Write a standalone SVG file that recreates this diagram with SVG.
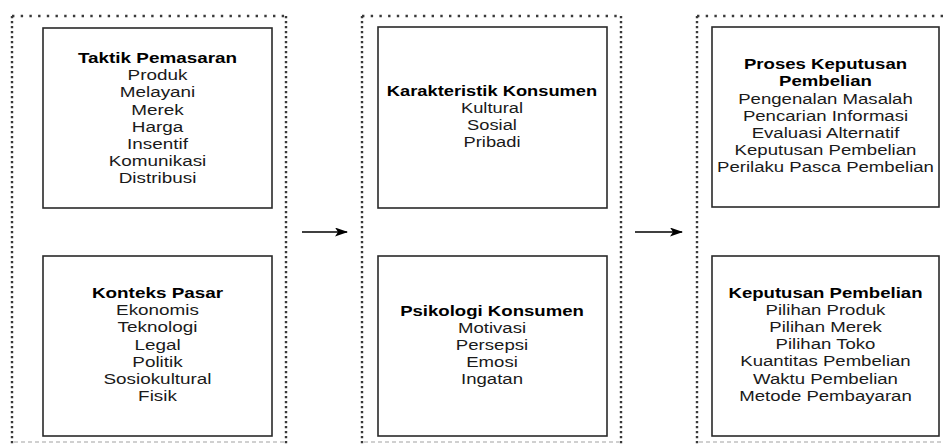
<svg xmlns="http://www.w3.org/2000/svg" width="944" height="446" viewBox="0 0 944 446">
  <defs>
    <style>
      .frameH { stroke: #3a3a3a; stroke-width: 2.4; stroke-dasharray: 2.4 6.3; fill: none; }
      .frameV { stroke: #3a3a3a; stroke-width: 2.4; stroke-dasharray: 2.2 2.8; fill: none; }
      .frameB { stroke: #d0d0d0; stroke-width: 2; stroke-dasharray: 4 3; fill: none; }
      .box { fill: #fff; stroke: #2a2a2a; stroke-width: 1.6; }
      .lbl { font-family: "Liberation Sans", Arial, sans-serif; font-size: 15px; fill: #1a1a1a; text-anchor: middle; }
      .ttl { font-weight: bold; fill: #000; }
      .conn { stroke: #000; stroke-width: 1.4; fill: none; marker-end: url(#arr); }
    </style>
    <marker id="arr" markerWidth="14" markerHeight="10" refX="12" refY="4.5" orient="auto" markerUnits="userSpaceOnUse">
      <path d="M0,0 L13,4.5 L0,9 L3,4.5 z" fill="#000"/>
    </marker>
  </defs>
  <rect width="944" height="446" fill="#fff"/>

  <g id="frames">
    <g id="frame1">
      <line class="frameH" x1="12" y1="16" x2="288" y2="16"/>
      <line class="frameV" x1="12" y1="16" x2="12" y2="446"/>
      <line class="frameV" x1="286" y1="16" x2="286" y2="446"/>
      <line class="frameB" x1="14" y1="442" x2="284" y2="442"/>
    </g>
    <g id="frame2">
      <line class="frameH" x1="362" y1="16" x2="623" y2="16"/>
      <line class="frameV" x1="362" y1="16" x2="362" y2="446"/>
      <line class="frameV" x1="621" y1="16" x2="621" y2="446"/>
      <line class="frameB" x1="364" y1="442" x2="619" y2="442"/>
    </g>
    <g id="frame3">
      <line class="frameH" x1="697" y1="16" x2="944" y2="16"/>
      <line class="frameV" x1="697" y1="16" x2="697" y2="446"/>
      <line class="frameB" x1="699" y1="442" x2="944" y2="442"/>
    </g>
  </g>

  <g id="taktik-pemasaran">
    <rect class="box" x="43" y="28" width="229" height="180"/>
    <g transform="translate(157.5 0) scale(1.26 1)">
      <text class="lbl" y="63"><tspan class="ttl" x="0">Taktik Pemasaran</tspan><tspan x="0" dy="17.2">Produk</tspan><tspan x="0" dy="17.2">Melayani</tspan><tspan x="0" dy="17.2">Merek</tspan><tspan x="0" dy="17.2">Harga</tspan><tspan x="0" dy="17.2">Insentif</tspan><tspan x="0" dy="17.2">Komunikasi</tspan><tspan x="0" dy="17.2">Distribusi</tspan></text>
    </g>
  </g>

  <g id="konteks-pasar">
    <rect class="box" x="43" y="256" width="229" height="180"/>
    <g transform="translate(157.5 0) scale(1.26 1)">
      <text class="lbl" y="298"><tspan class="ttl" x="0">Konteks Pasar</tspan><tspan x="0" dy="17.2">Ekonomis</tspan><tspan x="0" dy="17.2">Teknologi</tspan><tspan x="0" dy="17.2">Legal</tspan><tspan x="0" dy="17.2">Politik</tspan><tspan x="0" dy="17.2">Sosiokultural</tspan><tspan x="0" dy="17.2">Fisik</tspan></text>
    </g>
  </g>

  <g id="karakteristik-konsumen">
    <rect class="box" x="378" y="27" width="229" height="181"/>
    <g transform="translate(492 0) scale(1.22 1)">
      <text class="lbl" y="95.7"><tspan class="ttl" x="0">Karakteristik Konsumen</tspan><tspan x="0" dy="17.2">Kultural</tspan><tspan x="0" dy="17.2">Sosial</tspan><tspan x="0" dy="17.2">Pribadi</tspan></text>
    </g>
  </g>

  <g id="psikologi-konsumen">
    <rect class="box" x="378" y="256" width="229" height="180"/>
    <g transform="translate(492 0) scale(1.24 1)">
      <text class="lbl" y="315.7"><tspan class="ttl" x="0">Psikologi Konsumen</tspan><tspan x="0" dy="17.2">Motivasi</tspan><tspan x="0" dy="17.2">Persepsi</tspan><tspan x="0" dy="17.2">Emosi</tspan><tspan x="0" dy="17.2">Ingatan</tspan></text>
    </g>
  </g>

  <g id="proses-keputusan-pembelian">
    <rect class="box" x="712" y="27" width="227" height="180"/>
    <g transform="translate(825.5 0) scale(1.24 1)">
      <text class="lbl" y="69.3"><tspan class="ttl" x="0">Proses Keputusan</tspan><tspan class="ttl" x="0" dy="17.2">Pembelian</tspan><tspan x="0" dy="17.2">Pengenalan Masalah</tspan><tspan x="0" dy="17.2">Pencarian Informasi</tspan><tspan x="0" dy="17.2">Evaluasi Alternatif</tspan><tspan x="0" dy="17.2">Keputusan Pembelian</tspan><tspan x="0" dy="17.2">Perilaku Pasca Pembelian</tspan></text>
    </g>
  </g>

  <g id="keputusan-pembelian">
    <rect class="box" x="712" y="256" width="227" height="180"/>
    <g transform="translate(825.5 0) scale(1.24 1)">
      <text class="lbl" y="297.7"><tspan class="ttl" x="0">Keputusan Pembelian</tspan><tspan x="0" dy="17.2">Pilihan Produk</tspan><tspan x="0" dy="17.2">Pilihan Merek</tspan><tspan x="0" dy="17.2">Pilihan Toko</tspan><tspan x="0" dy="17.2">Kuantitas Pembelian</tspan><tspan x="0" dy="17.2">Waktu Pembelian</tspan><tspan x="0" dy="17.2">Metode Pembayaran</tspan></text>
    </g>
  </g>

  <g id="connectors">
    <line class="conn" x1="302" y1="232" x2="347" y2="232"/>
    <line class="conn" x1="635" y1="232" x2="682" y2="232"/>
  </g>
</svg>
